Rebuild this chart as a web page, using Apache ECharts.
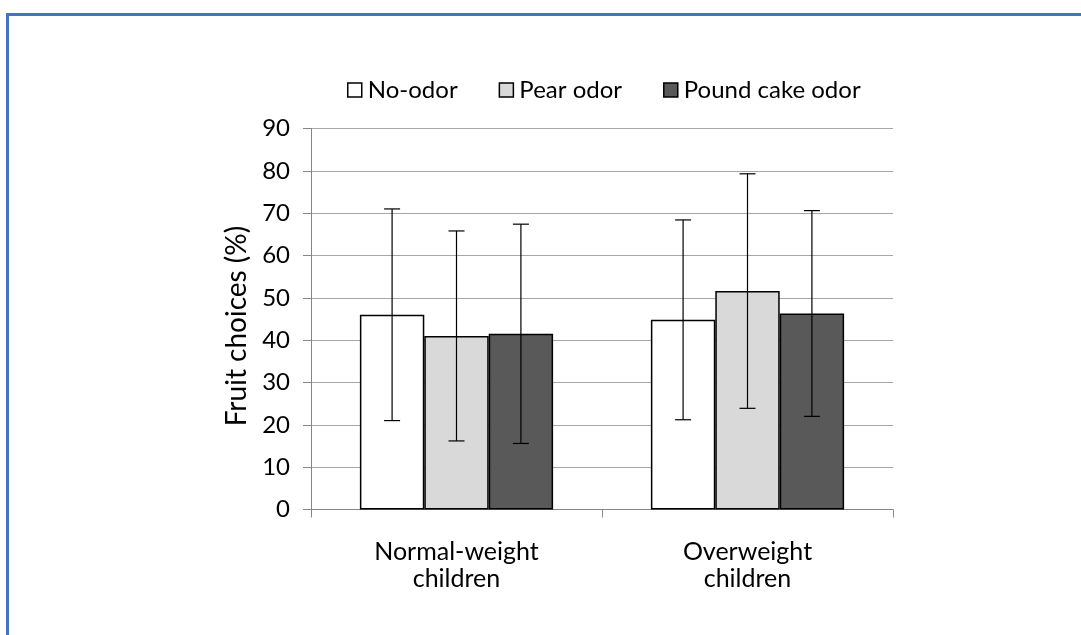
<!DOCTYPE html>
<html>
<head>
<meta charset="utf-8">
<script src="https://cdn.jsdelivr.net/npm/echarts@6/dist/echarts.min.js"></script>
<style>
  html, body { margin: 0; padding: 0; background: #fff; }
  #chart { width: 1081px; height: 635px; }
</style>
</head>
<body>
<div id="chart"></div>
<script>
// Groups of children on the x axis
const categories = ['Normal-weight\nchildren', 'Overweight\nchildren'];
// Condition names (legend order)
const seriesNames = ['No-odor', 'Pear odor', 'Pound cake odor'];
// Mean fruit choices (%) per condition
const noOdor = [46.0, 44.8];
const pearOdor = [41.0, 51.6];
const poundCakeOdor = [41.5, 46.3];
// Standard deviations drawn as error bars
const noOdorSD = [25.0, 23.6];
const pearOdorSD = [24.8, 27.7];
const poundCakeOdorSD = [25.9, 24.3];
// Value axis ticks
const yTicks = [0, 10, 20, 30, 40, 50, 60, 70, 80, 90];

const means = [noOdor, pearOdor, poundCakeOdor];
const sds = [noOdorSD, pearOdorSD, poundCakeOdorSD];
const fills = ['#FFFFFF', '#D9D9D9', '#595959'];

const FONT = 'Lato, Carlito, Calibri, "Open Sans", sans-serif';
const GAP = 0.336; // fraction of each category left empty around the bars

const barSeries = seriesNames.map((name, s) => ({
  name: name,
  type: 'bar',
  data: means[s],
  barGap: '0%',
  barCategoryGap: (GAP * 100) + '%',
  itemStyle: { color: fills[s], borderColor: '#000', borderWidth: 1.5 },
  emphasis: { disabled: true },
  z: 2
}));

// One error-bar item per (category, condition)
const errData = [];
for (let s = 0; s < means.length; s++) {
  for (let c = 0; c < categories.length; c++) {
    errData.push([c, means[s][c] - sds[s][c], means[s][c] + sds[s][c], s]);
  }
}

const errorSeries = {
  type: 'custom',
  data: errData,
  encode: { x: 0, y: [1, 2] },
  z: 5,
  silent: true,
  renderItem: function (params, api) {
    const c = api.value(0);
    const s = api.value(3);
    const bandW = api.size([1, 0])[0];
    const barW = bandW * (1 - GAP) / seriesNames.length;
    const base = api.coord([c, 0]);
    const x = base[0] + (s - (seriesNames.length - 1) / 2) * barW;
    const yLo = api.coord([c, api.value(1)])[1];
    const yHi = api.coord([c, api.value(2)])[1];
    const cap = 8;
    const style = { stroke: '#000', lineWidth: 1.2, fill: null };
    return {
      type: 'group',
      children: [
        { type: 'line', shape: { x1: x, y1: yLo, x2: x, y2: yHi }, style: style },
        { type: 'line', shape: { x1: x - cap, y1: yHi, x2: x + cap, y2: yHi }, style: style },
        { type: 'line', shape: { x1: x - cap, y1: yLo, x2: x + cap, y2: yLo }, style: style }
      ]
    };
  }
};

const chart = echarts.init(document.getElementById('chart'), null, { renderer: 'canvas' });
chart.setOption({
  animation: false,
  backgroundColor: '#fff',
  textStyle: { fontFamily: FONT },
  grid: { left: 311, right: 188, top: 128.5, bottom: 125.5, containLabel: false },
  legend: {
    data: seriesNames,
    left: 342,
    top: 73,
    icon: 'rect',
    itemWidth: 14,
    itemHeight: 14,
    itemGap: 41,
    itemStyle: { borderColor: '#000', borderWidth: 1.5 },
    textStyle: { fontFamily: FONT, fontSize: 24, color: '#000', padding: [0, 0, 0, 1] },
    selectedMode: false
  },
  xAxis: {
    type: 'category',
    data: categories,
    axisLine: { lineStyle: { color: '#868686', width: 1 } },
    axisTick: { show: true, length: 8, alignWithLabel: false, lineStyle: { color: '#868686' } },
    axisLabel: { fontFamily: FONT, fontSize: 25, color: '#000', lineHeight: 27, margin: 29 }
  },
  yAxis: {
    type: 'value',
    min: yTicks[0],
    max: yTicks[yTicks.length - 1],
    interval: yTicks[1] - yTicks[0],
    name: 'Fruit choices (%)',
    nameLocation: 'middle',
    nameGap: 60,
    nameTextStyle: { fontFamily: FONT, fontSize: 28, color: '#000', padding: [0, 14, 0, 0] },
    axisLine: { show: true, lineStyle: { color: '#868686', width: 1 } },
    axisTick: { show: true, length: 8, lineStyle: { color: '#868686' } },
    axisLabel: { fontFamily: FONT, fontSize: 24, color: '#000', margin: 21 },
    splitLine: { show: true, lineStyle: { color: '#A6A6A6', width: 1 } }
  },
  graphic: [
    // frame lines along the top and left edges
    { type: 'line', shape: { x1: 6, y1: 14.5, x2: 1081, y2: 14.5 }, style: { stroke: '#4472C4', lineWidth: 3 }, silent: true },
    { type: 'line', shape: { x1: 7.5, y1: 13, x2: 7.5, y2: 635 }, style: { stroke: '#4472C4', lineWidth: 3 }, silent: true }
  ],
  series: barSeries.concat([errorSeries])
});
</script>
</body>
</html>
